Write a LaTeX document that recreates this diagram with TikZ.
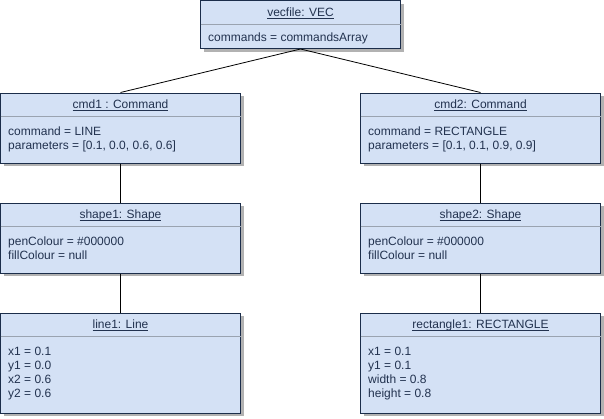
\documentclass[tikz,border=0pt]{standalone}
\usepackage{fontspec}
\setmainfont{Liberation Sans}
\newcommand\myul[1]{\setbox0\hbox{#1}\rlap{\rule[-1.8pt]{\wd0}{0.7pt}}\box0}
\usetikzlibrary{shadows}
\definecolor{boxfill}{HTML}{D4E1F5}
\definecolor{boxline}{HTML}{1B2D4A}
\definecolor{txt}{HTML}{22324F}
\definecolor{divline}{HTML}{9AA3B0}
\tikzset{
  box/.style={draw=boxline, line width=1pt, fill=boxfill, rectangle, inner sep=0pt,
    drop shadow={shadow xshift=3pt, shadow yshift=-3pt, opacity=0.3, fill=black}},
  hdr/.style={inner sep=0pt, text=txt, font=\fontsize{12}{14}\selectfont},
  body/.style={inner sep=0pt, anchor=north west, align=left, text=txt, font=\fontsize{12}{14}\selectfont},
  div/.style={draw=divline, line width=0.8pt},
  conn/.style={draw=black, line width=0.8pt}
}
\begin{document}
\begin{tikzpicture}[x=1pt,y=-1pt]
\useasboundingbox (0,0) rectangle (604,418);
% boxes
\node[box, minimum width=200pt, minimum height=48pt] (vec) at (300.5,24.5) {};
\node[box, minimum width=240pt, minimum height=70pt] (cmd1) at (120.5,128) {};
\node[box, minimum width=240pt, minimum height=70pt] (cmd2) at (480.5,128) {};
\node[box, minimum width=240pt, minimum height=70pt] (shape1) at (120.5,238) {};
\node[box, minimum width=240pt, minimum height=70pt] (shape2) at (480.5,238) {};
\node[box, minimum width=240pt, minimum height=100pt] (line1) at (120.5,363) {};
\node[box, minimum width=240pt, minimum height=100pt] (rect1) at (480.5,363) {};
% dividers
\foreach \n in {vec,cmd1,cmd2,shape1,shape2,line1,rect1}{
  \draw[div] ([yshift=-24pt,xshift=0.5pt]\n.north west) -- ([yshift=-24pt,xshift=-0.5pt]\n.north east);
}
% headers
\node[hdr] (vech) at ([yshift=-13pt]vec.north) {\myul{vecfile: VEC}};
\node[hdr] (cmd1h) at ([yshift=-13pt]cmd1.north) {\myul{cmd1 : Command}};
\node[hdr] (cmd2h) at ([yshift=-13pt]cmd2.north) {\myul{cmd2: Command}};
\node[hdr] (shape1h) at ([yshift=-13pt]shape1.north) {\myul{shape1: Shape}};
\node[hdr] (shape2h) at ([yshift=-13pt]shape2.north) {\myul{shape2: Shape}};
\node[hdr] (line1h) at ([yshift=-13pt]line1.north) {\myul{line1: Line}};
\node[hdr] (rect1h) at ([yshift=-13pt]rect1.north) {\myul{rectangle1: RECTANGLE}};
% bodies
\node[body] (vecb) at ([xshift=8pt,yshift=-33pt]vec.north west) {commands = commandsArray};
\node[body] (cmd1b) at ([xshift=8pt,yshift=-34pt]cmd1.north west) {command = LINE\\parameters = [0.1, 0.0, 0.6, 0.6]};
\node[body] (cmd2b) at ([xshift=8pt,yshift=-34pt]cmd2.north west) {command = RECTANGLE\\parameters = [0.1, 0.1, 0.9, 0.9]};
\node[body] (shape1b) at ([xshift=8pt,yshift=-34pt]shape1.north west) {penColour = \#000000\\fillColour = null};
\node[body] (shape2b) at ([xshift=8pt,yshift=-34pt]shape2.north west) {penColour = \#000000\\fillColour = null};
\node[body] (line1b) at ([xshift=8pt,yshift=-34pt]line1.north west) {x1 = 0.1\\y1 = 0.0\\x2 = 0.6\\y2 = 0.6};
\node[body] (rect1b) at ([xshift=8pt,yshift=-34pt]rect1.north west) {x1 = 0.1\\y1 = 0.1\\width = 0.8\\height = 0.8};
% connectors
\draw[conn] (vec.south) -- (cmd1.north);
\draw[conn] (vec.south) -- (cmd2.north);
\draw[conn] (cmd1.south) -- (shape1.north);
\draw[conn] (cmd2.south) -- (shape2.north);
\draw[conn] (shape1.south) -- (line1.north);
\draw[conn] (shape2.south) -- (rect1.north);
\end{tikzpicture}
\end{document}
